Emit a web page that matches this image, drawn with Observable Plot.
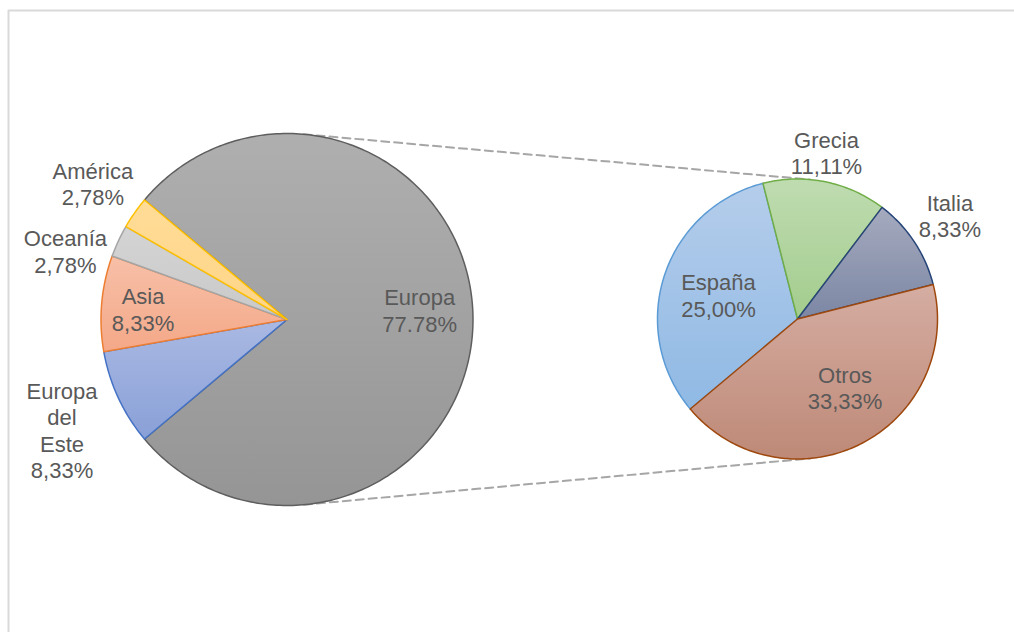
<!DOCTYPE html>
<html><head><meta charset="utf-8">
<script src="https://cdn.jsdelivr.net/npm/d3@7"></script>
<script src="https://cdn.jsdelivr.net/npm/@observablehq/plot@0.6"></script>
<style>
html,body{margin:0;padding:0;background:#fff;overflow:hidden;width:1014px;height:632px}
#chart{position:absolute;left:0;top:0;width:1014px;height:632px}
#chart svg{display:block}
</style></head><body>
<div id="chart"></div>
<script>
// ---- data ----
const regions = ["Europa", "Europa del Este", "Asia", "Oceanía", "América"];
const regionShares = [77.78, 8.33, 8.33, 2.78, 2.78];
const regionLabels = ["77.78%", "8,33%", "8,33%", "2,78%", "2,78%"];
const countries = ["España", "Grecia", "Italia", "Otros"];
const countryShares = [25.00, 11.11, 8.33, 33.33];
const countryLabels = ["25,00%", "11,11%", "8,33%", "33,33%"];

// ---- layout / style config ----
const W = 1014, H = 632;
const pies = {
  left:  {cx: 286.5, cy: 319, r: 186},
  right: {cx: 797, cy: 318.5, r: 140}
};
const rightStart = 220; // degrees (math), clockwise
const wrapNames = {"Europa del Este": "Europa\ndel\nEste"};
const labelPlacement = {
  "Europa": {r: 0.715, a: 4},
  "Europa del Este": {r: 1.348, a: 206.2},
  "Asia": {r: 0.776, a: 175.8},
  "Oceanía": {r: 1.247, a: 162.8},
  "América": {r: 1.274, a: 145},
  "España": {r: 0.59, a: 163.1},
  "Grecia": {r: 1.205, a: 80.1},
  "Italia": {r: 1.316, a: 34.2},
  "Otros": {r: 0.596, a: -55.3}
};
const sliceStyle = {
  "Europa":          {top: "#afafaf", bottom: "#959595", stroke: "#5e5e5e"},
  "Europa del Este": {top: "#aab9e3", bottom: "#89a0d7", stroke: "#4472c4"},
  "Asia":            {top: "#f7c0a8", bottom: "#f4a888", stroke: "#ed7d31"},
  "Oceanía":         {top: "#d4d4d4", bottom: "#c9c9c9", stroke: "#a5a5a5"},
  "América":         {top: "#ffdc97", bottom: "#ffd588", stroke: "#ffc000"},
  "España":          {top: "#b5cdeb", bottom: "#8fb9e4", stroke: "#5b9bd5"},
  "Grecia":          {top: "#bfdcb1", bottom: "#a3cc8d", stroke: "#70ad47"},
  "Italia":          {top: "#a5aabe", bottom: "#7c87a4", stroke: "#264478"},
  "Otros":           {top: "#d5ada2", bottom: "#be8977", stroke: "#9e480e"}
};
const textColor = "#595959";
const fontFamily = "'Liberation Sans', Arial, sans-serif";

// ---- geometry from data ----
const rad = d => d * Math.PI / 180;
function buildSlices(names, shares, labels, pie, startDeg) {
  const total = d3.sum(shares);
  let a = startDeg;
  return names.map((name, i) => {
    const span = shares[i] / total * 360;
    const a0 = a, a1 = a - span; // clockwise
    a = a1;
    const pts = [{x: pie.cx, y: pie.cy}];
    const steps = Math.max(2, Math.ceil(span));
    for (let k = 0; k <= steps; k++) {
      const t = rad(a0 + (a1 - a0) * k / steps);
      pts.push({x: pie.cx + pie.r * Math.cos(t), y: pie.cy - pie.r * Math.sin(t)});
    }
    const lp = labelPlacement[name];
    const la = rad(lp.a);
    return {
      name, pts, i,
      label: (wrapNames[name] || name) + "\n" + labels[i],
      lx: pie.cx + lp.r * pie.r * Math.cos(la),
      ly: pie.cy - lp.r * pie.r * Math.sin(la)
    };
  });
}
const leftTotal = d3.sum(regionShares);
const leftStart = regionShares[0] / leftTotal * 360 / 2;
const leftSlices = buildSlices(regions, regionShares, regionLabels, pies.left, leftStart);
const rightSlices = buildSlices(countries, countryShares, countryLabels, pies.right, rightStart);
const allSlices = [...leftSlices, ...rightSlices];

// external tangent connectors
const L = pies.left, R = pies.right;
const dxC = R.cx - L.cx, dyC = -(R.cy - L.cy);
const dC = Math.hypot(dxC, dyC);
const base = Math.atan2(dyC, dxC);
const phi = Math.acos((L.r - R.r) / dC);
const connectors = [base + phi, base - phi].map((ang, k) => [
  {k, x: L.cx + L.r * Math.cos(ang), y: L.cy - L.r * Math.sin(ang)},
  {k, x: R.cx + R.r * Math.cos(ang), y: R.cy - R.r * Math.sin(ang)}
]).flat();

// chart-area frame: only top and left edges fall inside the picture
const frameEdges = [
  {k: 0, x: 8, y: H + 10}, {k: 0, x: 8, y: 10}, {k: 0, x: W + 10, y: 10}
];

const gid = name => "grad-" + allSlices.findIndex(s => s.name === name);

const chart = Plot.plot({
  width: W, height: H,
  margin: 0,
  x: {type: "identity"},
  y: {type: "identity"},
  axis: null,
  clip: true,
  style: {background: "transparent", fontFamily, overflow: "hidden"},
  marks: [
    Plot.line(frameEdges, {x: "x", y: "y", stroke: "#d9d9d9", strokeWidth: 2}),
    Plot.line(connectors, {x: "x", y: "y", z: "k", stroke: "#a6a6a6", strokeWidth: 2, strokeDasharray: "8,5"}),
    ...allSlices.map(s => Plot.line(s.pts, {
      x: "x", y: "y", curve: "linear-closed",
      fill: `url(#${gid(s.name)})`,
      stroke: sliceStyle[s.name].stroke,
      strokeWidth: 1.5, strokeLinejoin: "round"
    })),
    Plot.text(allSlices, {
      x: "lx", y: "ly", text: "label",
      fill: textColor, fontSize: 22, lineHeight: 1.2,
      textAnchor: "middle", lineAnchor: "middle", fontFamily
    })
  ]
});

const defs = d3.select(chart).insert("defs", ":first-child");
allSlices.forEach(s => {
  const st = sliceStyle[s.name];
  const g = defs.append("linearGradient").attr("id", gid(s.name))
    .attr("x1", 0).attr("y1", 0).attr("x2", 0).attr("y2", 1);
  g.append("stop").attr("offset", "0%").attr("stop-color", st.top);
  g.append("stop").attr("offset", "100%").attr("stop-color", st.bottom);
});

document.getElementById("chart").appendChild(chart);
</script>
</body></html>
